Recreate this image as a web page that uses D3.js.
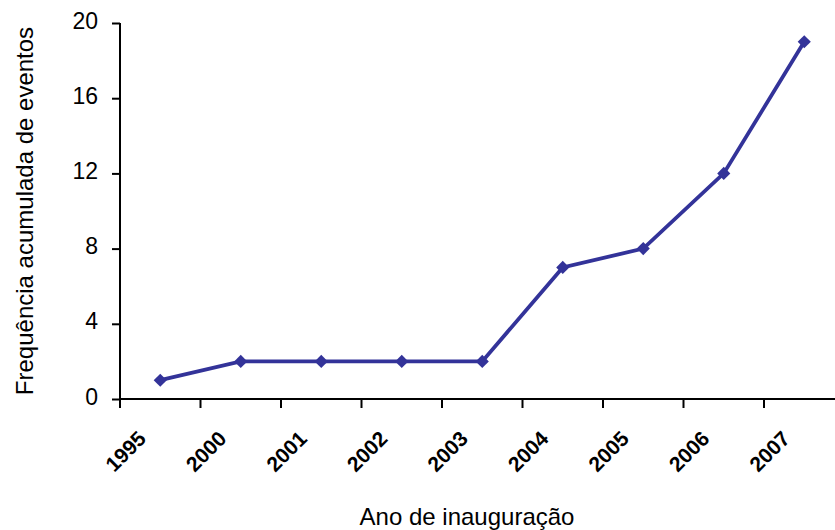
<!DOCTYPE html>
<html>
<head>
<meta charset="utf-8">
<script src="https://cdn.jsdelivr.net/npm/d3@7"></script>
<style>
  body { margin: 0; background: #fff; }
  text { font-family: Arial, "Liberation Sans", sans-serif; }
</style>
</head>
<body>
<div id="chart"></div>
<script>
const years = ["1995", "2000", "2001", "2002", "2003", "2004", "2005", "2006", "2007"];
const counts = [1, 2, 2, 2, 2, 7, 8, 12, 19];
const yTicks = [0, 4, 8, 12, 16, 20];

const W = 835, H = 530;
const plot = {left: 120, top: 23, bottom: 399, bandW: 80.5};

const svg = d3.select("#chart").append("svg")
  .attr("width", W)
  .attr("height", H);

const x = d3.scaleBand()
  .domain(years)
  .range([plot.left, plot.left + plot.bandW * years.length])
  .padding(0);

const y = d3.scaleLinear()
  .domain([0, 20])
  .range([plot.bottom, plot.top]);

// y axis
const yAxis = svg.append("g")
  .attr("transform", `translate(${plot.left},0)`)
  .call(d3.axisLeft(y).tickValues(yTicks).tickSize(8).tickPadding(14));
yAxis.selectAll("text").style("font-size", "23px").attr("fill", "#000").attr("dy", "0.22em");
yAxis.select(".domain").attr("stroke", "#000").attr("stroke-width", 2)
  .attr("d", `M0,${plot.top}V${plot.bottom}`);
yAxis.selectAll(".tick line").attr("stroke", "#000").attr("stroke-width", 2);

// x axis, ticks on band boundaries
const xg = svg.append("g").attr("transform", `translate(0,${plot.bottom})`);
xg.append("line")
  .attr("x1", plot.left).attr("x2", W)
  .attr("stroke", "#000").attr("stroke-width", 2);
xg.selectAll("line.tk")
  .data(years)
  .enter().append("line")
    .attr("class", "tk")
    .attr("x1", d => x(d)).attr("x2", d => x(d))
    .attr("y1", 0).attr("y2", 9)
    .attr("stroke", "#000").attr("stroke-width", 2);
xg.selectAll("text")
  .data(years)
  .enter().append("text")
    .attr("transform", d => `translate(${x(d) + x.bandwidth() / 2 - 13},41) rotate(-45)`)
    .attr("text-anchor", "end")
    .style("font-size", "21px")
    .style("font-weight", "bold")
    .text(d => d);

// line + markers
const line = d3.line()
  .x((d, i) => x(years[i]) + x.bandwidth() / 2)
  .y(d => y(d));

svg.append("path")
  .datum(counts)
  .attr("d", line)
  .attr("fill", "none")
  .attr("stroke", "#333399")
  .attr("stroke-width", 3.8);

svg.selectAll("path.mk")
  .data(counts)
  .enter().append("path")
    .attr("class", "mk")
    .attr("d", d3.symbol().type(d3.symbolDiamond2).size(110))
    .attr("transform", (d, i) => `translate(${x(years[i]) + x.bandwidth() / 2},${y(d)})`)
    .attr("fill", "#333399");

// titles
svg.append("text")
  .attr("transform", `translate(33,211) rotate(-90)`)
  .attr("text-anchor", "middle")
  .style("font-size", "24px")
  .text("Frequência acumulada de eventos");

svg.append("text")
  .attr("x", 467)
  .attr("y", 525)
  .attr("text-anchor", "middle")
  .style("font-size", "24px")
  .text("Ano de inauguração");
</script>
</body>
</html>
